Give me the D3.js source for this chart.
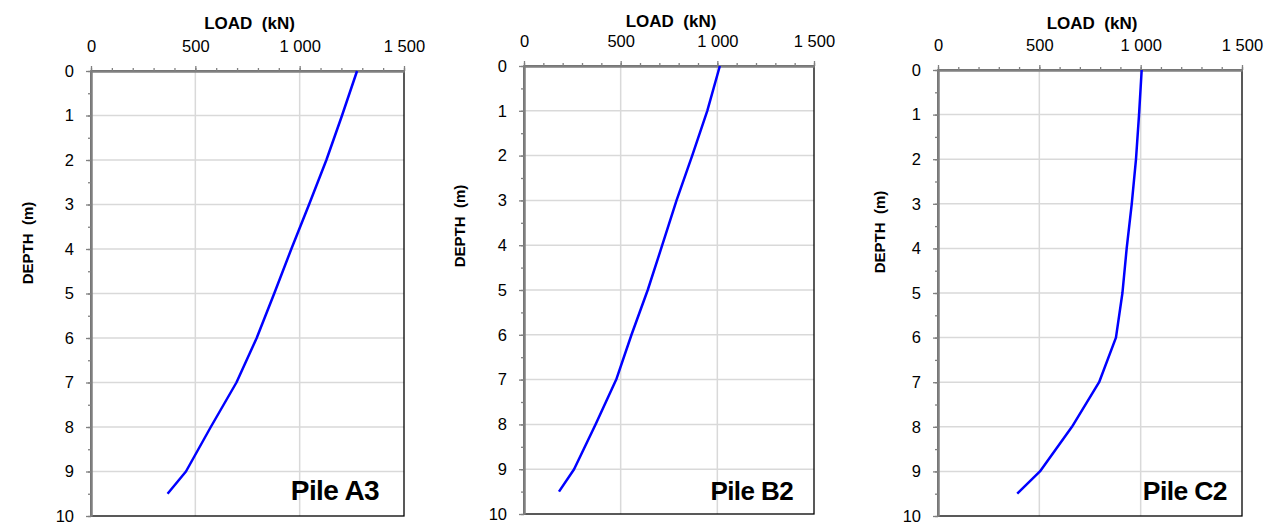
<!DOCTYPE html>
<html>
<head>
<meta charset="utf-8">
<script src="https://cdn.jsdelivr.net/npm/d3@7"></script>
<style>
  body { margin: 0; background: #fff; }
  svg { display: block; font-family: "Liberation Sans", Arial, sans-serif; }
</style>
</head>
<body>
<svg id="chart" width="1277" height="525"></svg>
<script>
// depth points along the pile (m)
const depths = [0, 1, 2, 3, 4, 5, 6, 7, 8, 9, 9.5];

// axial load at each depth (kN)
const loadA3 = [1275, 1203, 1128, 1045, 960, 878, 794, 697, 574, 455, 367];
const loadB2 = [1013, 948, 870, 789, 715, 640, 556, 477, 370, 259, 181];
const loadC2 = [1005, 992, 977, 956, 931, 910, 878, 795, 661, 503, 391];

const pileNames = ["Pile A3", "Pile B2", "Pile C2"];
const xTicks = [0, 500, 1000, 1500];
const yTicks = [0, 1, 2, 3, 4, 5, 6, 7, 8, 9, 10];

// where each panel sits on the page
const panels = [
    { name: pileNames[0], load: loadA3, left: 91, right: 404, top: 71, bottom: 516, titleY: 23, yLabelX: 28, yLabelY: 243, nameX: 379, nameSize: 28 },
    { name: pileNames[1], load: loadB2, left: 524, right: 814, top: 66, bottom: 514, titleY: 21, yLabelX: 460, yLabelY: 226, nameX: 793, nameSize: 26 },
    { name: pileNames[2], load: loadC2, left: 938, right: 1242, top: 70, bottom: 516, titleY: 23, yLabelX: 880, yLabelY: 232, nameX: 1227, nameSize: 26.5 }
];

const locale = d3.formatLocale({ decimal: ".", thousands: " ", grouping: [3], currency: ["", ""] });
const fmt = locale.format(",");

const svg = d3.select("#chart");

panels.forEach(p => {
    const x = d3.scaleLinear().domain([0, 1500]).range([p.left, p.right]);
    const y = d3.scaleLinear().domain([0, 10]).range([p.top, p.bottom]);
    const g = svg.append("g");

    // gridlines
    g.selectAll(".vgrid")
        .data([500, 1000])
        .enter()
        .append("line")
        .attr("x1", d => x(d)).attr("x2", d => x(d))
        .attr("y1", p.top).attr("y2", p.bottom)
        .style("stroke", "#d9d9d9")
        .style("stroke-width", 1.5);

    g.selectAll(".hgrid")
        .data(d3.range(1, 10))
        .enter()
        .append("line")
        .attr("x1", p.left).attr("x2", p.right)
        .attr("y1", d => y(d)).attr("y2", d => y(d))
        .style("stroke", "#d9d9d9")
        .style("stroke-width", 1.5);

    // plot border (right and bottom stay black)
    g.append("rect")
        .attr("x", p.left).attr("y", p.top)
        .attr("width", p.right - p.left)
        .attr("height", p.bottom - p.top)
        .attr("fill", "none")
        .attr("stroke", "#000")
        .attr("stroke-width", 1.3);

    // top axis: minor ticks every 100, majors every 500
    const xAxis = d3.axisTop(x).tickValues(xTicks).tickFormat(fmt).tickSize(5).tickSizeOuter(0).tickPadding(14);
    const xMinor = d3.axisTop(x).tickValues(d3.range(0, 1501, 100)).tickFormat("").tickSize(3).tickSizeOuter(0);
    const yAxis = d3.axisLeft(y).tickValues(yTicks).tickSize(5).tickSizeOuter(0).tickPadding(12);
    const yMinor = d3.axisLeft(y).tickValues(d3.range(0, 10.01, 0.5)).tickFormat("").tickSize(3).tickSizeOuter(0);

    [
        g.append("g").attr("transform", `translate(0,${p.top})`).call(xMinor),
        g.append("g").attr("transform", `translate(0,${p.top})`).call(xAxis),
        g.append("g").attr("transform", `translate(${p.left},0)`).call(yMinor),
        g.append("g").attr("transform", `translate(${p.left},0)`).call(yAxis)
    ].forEach(a => {
        a.select(".domain").attr("stroke", "#808080").attr("stroke-width", 2);
        a.selectAll(".tick line").attr("stroke", "#808080").attr("stroke-width", 1.3);
        a.selectAll("text").attr("fill", "#000").style("font-size", "16.5px").style("font-family", "Liberation Sans, Arial, sans-serif");
    });

    // load-depth curve
    const line = d3.line()
        .x(d => x(d[0]))
        .y(d => y(d[1]));

    g.append("path")
        .datum(p.load.map((v, i) => [v, depths[i]]))
        .attr("d", line)
        .attr("fill", "none")
        .attr("stroke", "#0000ff")
        .attr("stroke-width", 2.5)
        .attr("stroke-linejoin", "round");

    // axis titles
    g.append("text")
        .attr("x", (p.left + p.right) / 2 + 2)
        .attr("y", p.titleY)
        .attr("dy", "0.35em")
        .attr("text-anchor", "middle")
        .style("font-size", "17px")
        .style("font-weight", "bold")
        .attr("xml:space", "preserve")
        .text("LOAD  (kN)");

    g.append("text")
        .attr("transform", `translate(${p.yLabelX},${p.yLabelY}) rotate(-90)`)
        .attr("dy", "0.35em")
        .attr("text-anchor", "middle")
        .style("font-size", "15px")
        .style("font-weight", "bold")
        .attr("xml:space", "preserve")
        .text("DEPTH  (m)");

    // pile name
    g.append("text")
        .attr("x", p.nameX)
        .attr("y", 500)
        .attr("text-anchor", "end")
        .style("font-size", p.nameSize + "px")
        .style("font-weight", "bold")
        .style("letter-spacing", "-0.6px")
        .text(p.name);
});
</script>
</body>
</html>
